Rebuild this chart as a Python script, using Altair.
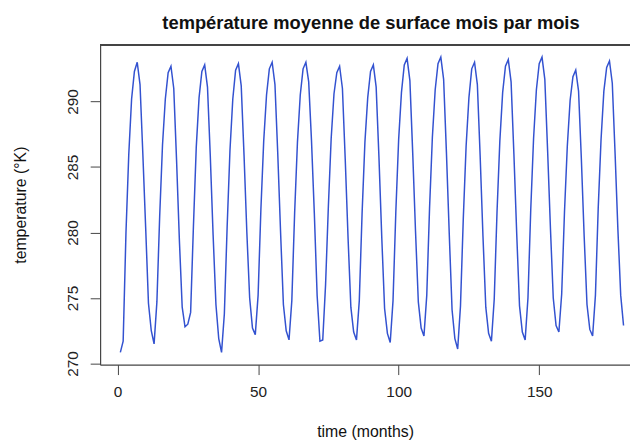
import altair as alt
import pandas as pd

# monthly surface temperature (K), one list per year
year_01 = [270.85, 271.7, 280.0, 286.0, 290.2, 292.3, 293.0, 291.3, 286.0, 280.4, 274.6, 272.5]
year_02 = [271.5, 274.7, 281.3, 286.7, 290.2, 292.2, 292.7, 291.0, 285.5, 279.4, 274.3, 272.8]
year_03 = [273.0, 273.9, 280.5, 286.5, 290.3, 292.3, 292.8, 291.1, 285.8, 279.8, 274.5, 271.9]
year_04 = [270.85, 273.8, 280.5, 286.3, 290.2, 292.4, 292.9, 291.2, 285.9, 280.0, 275.0, 272.7]
year_05 = [272.2, 275.2, 281.8, 287.0, 290.5, 292.5, 293.0, 291.3, 286.0, 280.0, 274.5, 272.5]
year_06 = [271.8, 274.8, 281.5, 286.9, 290.5, 292.5, 293.0, 291.5, 287.0, 281.5, 275.2, 271.7]
year_07 = [271.8, 276.0, 282.0, 287.2, 290.6, 292.2, 292.7, 291.0, 285.6, 279.6, 274.3, 272.4]
year_08 = [271.8, 274.8, 281.5, 286.9, 290.3, 292.3, 292.8, 291.1, 285.7, 279.6, 274.2, 272.3]
year_09 = [271.6, 274.8, 281.6, 287.1, 290.7, 292.8, 293.3, 291.6, 286.1, 280.1, 274.7, 272.7]
year_10 = [272.1, 275.2, 281.9, 287.3, 290.9, 292.9, 293.4, 291.7, 286.1, 279.9, 274.1, 271.9]
year_11 = [271.1, 274.4, 281.1, 286.6, 290.3, 292.5, 293.0, 291.3, 285.8, 279.7, 274.3, 272.3]
year_12 = [271.7, 274.9, 281.6, 287.0, 290.7, 292.7, 293.2, 291.5, 286.0, 279.9, 274.4, 272.4]
year_13 = [271.8, 275.0, 281.8, 287.2, 290.9, 292.9, 293.4, 291.7, 286.2, 280.3, 275.0, 272.9]
year_14 = [272.4, 275.3, 281.6, 286.6, 290.1, 291.9, 292.4, 290.8, 285.6, 279.7, 274.5, 272.6]
year_15 = [272.1, 275.2, 281.9, 287.1, 290.8, 292.6, 293.1, 291.4, 286.0, 280.2, 275.2, 272.9]

x_ticks = [0, 50, 100, 150]
y_ticks = [270, 275, 280, 285, 290]

temperature = (year_01 + year_02 + year_03 + year_04 + year_05 + year_06 + year_07 +
               year_08 + year_09 + year_10 + year_11 + year_12 + year_13 + year_14 + year_15)
months = list(range(1, len(temperature) + 1))

df = pd.DataFrame({"month": months, "temp": temperature})

W, H = 535, 323
FONT = "Liberation Sans"

line = alt.Chart(df).mark_line(color="#3352d0", strokeWidth=1.5, clip=True).encode(
    x=alt.X("month:Q", title="time (months)",
            scale=alt.Scale(domain=[-6.2, 182.3], nice=False, zero=False),
            axis=alt.Axis(values=x_ticks, format="d", tickSize=10, labelPadding=10,
                          titlePadding=24, grid=False)),
    y=alt.Y("temp:Q", title="temperature (°K)",
            scale=alt.Scale(domain=[269.91, 294.34], nice=False, zero=False),
            axis=alt.Axis(values=y_ticks, format="d", tickSize=10, labelAngle=270,
                          labelAlign="center", labelBaseline="bottom", labelPadding=10,
                          titlePadding=37, grid=False)),
)

top_border = alt.Chart(df).mark_rule(color="#444444", strokeWidth=1.2).encode(
    x=alt.value(0), x2=alt.value(W), y=alt.value(0)
)

chart = alt.layer(line, top_border).properties(
    width=W, height=H,
    title=alt.TitleParams("température moyenne de surface mois par mois",
                          fontSize=18.5, fontWeight="bold", font=FONT, color="#111111",
                          anchor="middle", frame="group", dx=6, offset=12),
    padding={"left": 93, "top": 35, "right": 0, "bottom": 75},
    autosize=alt.AutoSizeParams(type="none"),
).configure_view(stroke=None).configure_axis(
    domainColor="#444444", domainWidth=1.2, tickColor="#444444", tickWidth=1,
    labelFont=FONT, titleFont=FONT, labelFontSize=15.5, titleFontSize=16,
    labelColor="#222222", titleColor="#111111", titleFontWeight="normal",
)

chart.save("out.html", embed_options={"renderer": "svg", "actions": False})
